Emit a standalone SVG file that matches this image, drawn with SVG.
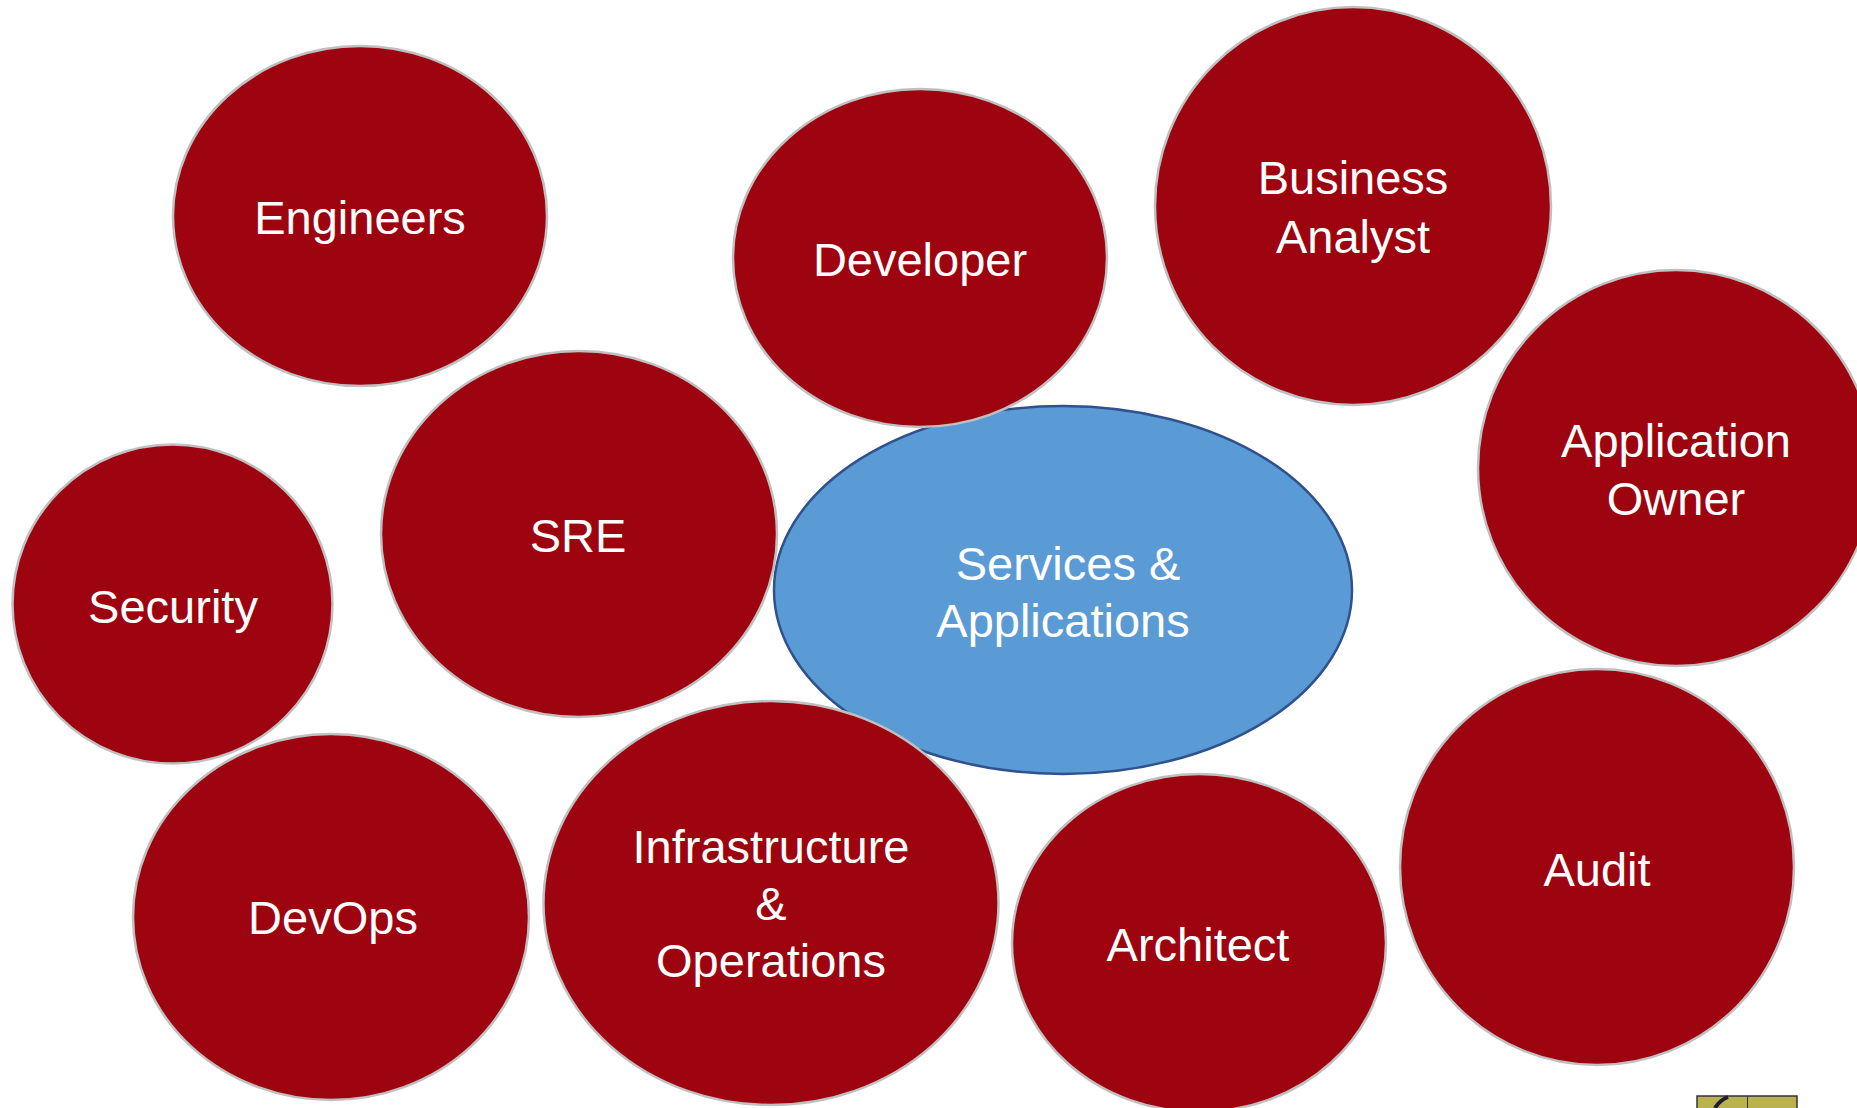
<svg xmlns="http://www.w3.org/2000/svg" width="1857" height="1108" viewBox="0 0 1857 1108">
  <style>
    .role { fill: #9e0410; stroke: #c0c0c0; stroke-width: 2.5; }
    .core { fill: #5b9bd5; stroke: #2f528f; stroke-width: 2.5; }
    .lbl { font-family: "Liberation Sans", Arial, sans-serif; font-size: 47px; fill: #ffffff; text-anchor: middle; }
  </style>
  <rect x="0" y="0" width="1857" height="1108" fill="#ffffff"/>

  <g id="connectors"></g>

  <g id="services-applications">
    <ellipse class="core" cx="1063" cy="590" rx="289" ry="184"/>
    <text class="lbl" x="1068" y="580">Services &amp;</text>
    <text class="lbl" x="1063" y="637">Applications</text>
  </g>

  <g id="engineers">
    <ellipse class="role" cx="360" cy="216" rx="187" ry="170"/>
    <text class="lbl" x="360" y="234">Engineers</text>
  </g>

  <g id="developer">
    <ellipse class="role" cx="920" cy="258" rx="187" ry="169"/>
    <text class="lbl" x="920" y="276">Developer</text>
  </g>

  <g id="business-analyst">
    <ellipse class="role" cx="1353" cy="206" rx="198" ry="199"/>
    <text class="lbl" x="1353" y="194">Business</text>
    <text class="lbl" x="1353" y="253">Analyst</text>
  </g>

  <g id="application-owner">
    <ellipse class="role" cx="1676" cy="468" rx="198" ry="198"/>
    <text class="lbl" x="1676" y="457">Application</text>
    <text class="lbl" x="1676" y="515">Owner</text>
  </g>

  <g id="security">
    <ellipse class="role" cx="172.5" cy="604" rx="160" ry="159.5"/>
    <text class="lbl" x="173" y="623">Security</text>
  </g>

  <g id="sre">
    <ellipse class="role" cx="579" cy="534" rx="198" ry="183"/>
    <text class="lbl" x="578" y="552">SRE</text>
  </g>

  <g id="devops">
    <ellipse class="role" cx="331" cy="917" rx="198" ry="183"/>
    <text class="lbl" x="333" y="934">DevOps</text>
  </g>

  <g id="infrastructure-operations">
    <ellipse class="role" cx="771" cy="903" rx="227.5" ry="202"/>
    <text class="lbl" x="771" y="863">Infrastructure</text>
    <text class="lbl" x="771" y="920">&amp;</text>
    <text class="lbl" x="771" y="977">Operations</text>
  </g>

  <g id="architect">
    <ellipse class="role" cx="1199" cy="943" rx="187" ry="169"/>
    <text class="lbl" x="1198" y="961">Architect</text>
  </g>

  <g id="audit">
    <ellipse class="role" cx="1597" cy="867" rx="197" ry="198"/>
    <text class="lbl" x="1597" y="886">Audit</text>
  </g>

  <g id="thumbnail">
    <rect x="1697" y="1096" width="100" height="14" fill="#b9b24e" stroke="#333333" stroke-width="1.5"/>
    <line x1="1747.5" y1="1096" x2="1747.5" y2="1108" stroke="#333333" stroke-width="1"/>
    <path d="M1715 1108 Q1720 1100 1728 1097" fill="none" stroke="#1e1e2e" stroke-width="4"/>
  </g>
</svg>
